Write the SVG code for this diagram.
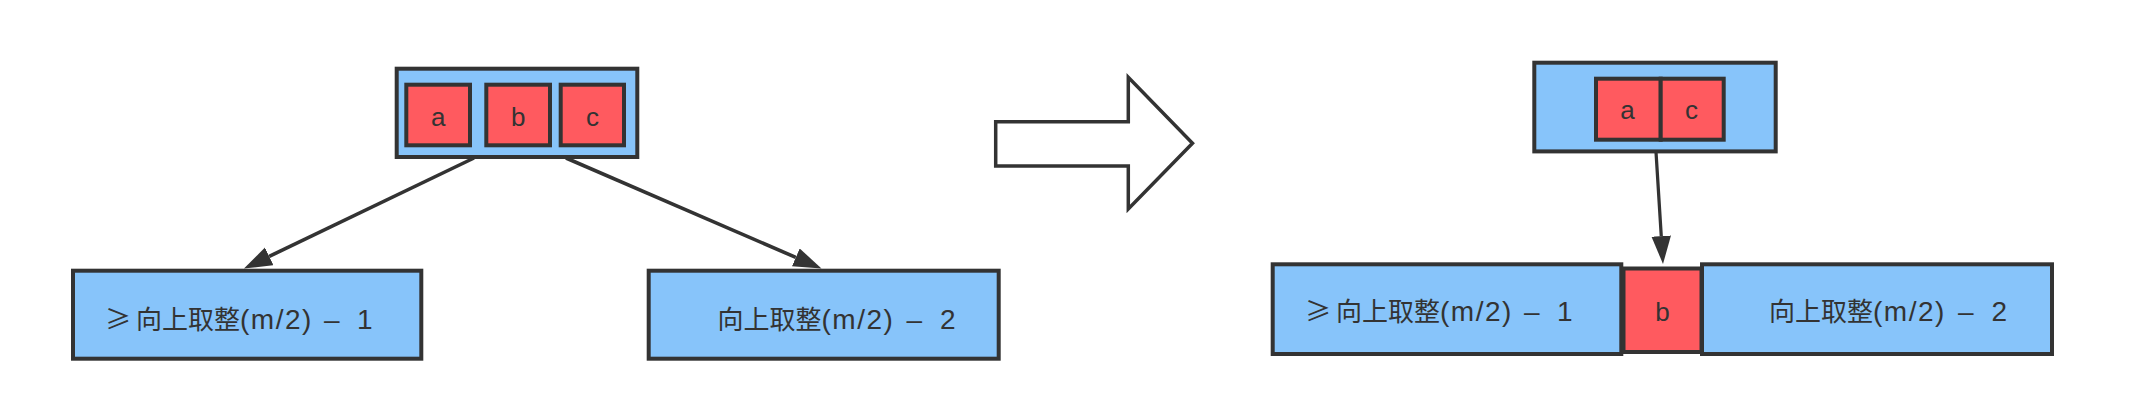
<svg xmlns="http://www.w3.org/2000/svg" width="2146" height="412" viewBox="0 0 2146 412">
<style>
.node{fill:#87c4fa;stroke:#333;stroke-width:4}
.cell{fill:#ff5a5f;stroke:#333;stroke-width:4}
.edge{fill:none;stroke:#333;stroke-width:3.6}
.t{font-family:"Liberation Sans","Noto Sans CJK SC",sans-serif;font-size:28px;fill:#333}
.l{font-size:26px;text-anchor:middle}
.cjk{font-family:"Noto Sans CJK SC",sans-serif;font-size:26px}
.ls{letter-spacing:1.5px}
</style>
<defs>
<marker id="ah" markerUnits="userSpaceOnUse" markerWidth="29" markerHeight="20" viewBox="0 0 29 20" refX="0" refY="9.75" orient="auto">
<path d="M0,0 L28,9.75 L0,19.5 Z" fill="#333"/>
</marker>
</defs>
<rect width="2146" height="412" fill="#fff"/>
<g id="connectors">
<path class="edge" d="M474,158 L269.2,256.4" marker-end="url(#ah)"/>
<path class="edge" d="M566,158 L795.8,257.4" marker-end="url(#ah)"/>
<path class="edge" d="M1656,152 L1661.25,236.05" marker-end="url(#ah)" style="stroke-width:3.2"/>
</g>
<g id="split-arrow">
<path d="M995.7,121.7 H1128.3 V77.3 L1192.5,143.3 L1128.3,209 V166 H995.7 Z" fill="#fff" stroke="#333" stroke-width="3.5" stroke-miterlimit="10"/>
</g>
<g id="node-abc">
<rect class="node" x="396.7" y="68.7" width="240.6" height="88.3"/>
<rect class="cell" x="406.3" y="84.7" width="63.7" height="60.6"/>
<rect class="cell" x="486.3" y="84.7" width="63.7" height="60.6"/>
<rect class="cell" x="560.7" y="84.7" width="63.3" height="60.6"/>
<text class="t l" x="438.2" y="126">a</text>
<text class="t l" x="518.2" y="126">b</text>
<text class="t l" x="592.4" y="126">c</text>
</g>
<g id="node-left-child">
<rect class="node" x="73" y="270.7" width="348.3" height="88"/>
<text class="t" y="328.5"><tspan class="cjk" x="105">≥</tspan><tspan class="cjk" x="136">向上取整</tspan><tspan class="ls" x="240">(m/2)</tspan><tspan x="324">–</tspan><tspan x="357">1</tspan></text>
</g>
<g id="node-right-child">
<rect class="node" x="648.7" y="270.7" width="350" height="88"/>
<text class="t" y="328.5"><tspan class="cjk" x="717.5">向上取整</tspan><tspan class="ls" x="821.5">(m/2)</tspan><tspan x="906.5">–</tspan><tspan x="940">2</tspan></text>
</g>
<g id="node-ac">
<rect class="node" x="1534.3" y="62.7" width="241.4" height="88.7"/>
<rect class="cell" x="1596" y="78.7" width="64.7" height="61"/>
<rect class="cell" x="1660.7" y="78.7" width="63" height="61"/>
<text class="t l" x="1627.5" y="119">a</text>
<text class="t l" x="1691.5" y="119">c</text>
</g>
<g id="node-merged-left">
<rect class="node" x="1272.7" y="264.3" width="348.6" height="89.7"/>
<text class="t" y="321"><tspan class="cjk" x="1305">≥</tspan><tspan class="cjk" x="1336">向上取整</tspan><tspan class="ls" x="1440">(m/2)</tspan><tspan x="1524">–</tspan><tspan x="1557">1</tspan></text>
</g>
<g id="node-merged-right">
<rect class="node" x="1702" y="264.3" width="350" height="89.7"/>
<text class="t" y="321"><tspan class="cjk" x="1769">向上取整</tspan><tspan class="ls" x="1873">(m/2)</tspan><tspan x="1958">–</tspan><tspan x="1991.5">2</tspan></text>
</g>
<g id="node-b">
<rect class="cell" x="1623.5" y="268.5" width="78" height="83.5"/>
<text class="t l" x="1662.5" y="321">b</text>
</g>
</svg>
